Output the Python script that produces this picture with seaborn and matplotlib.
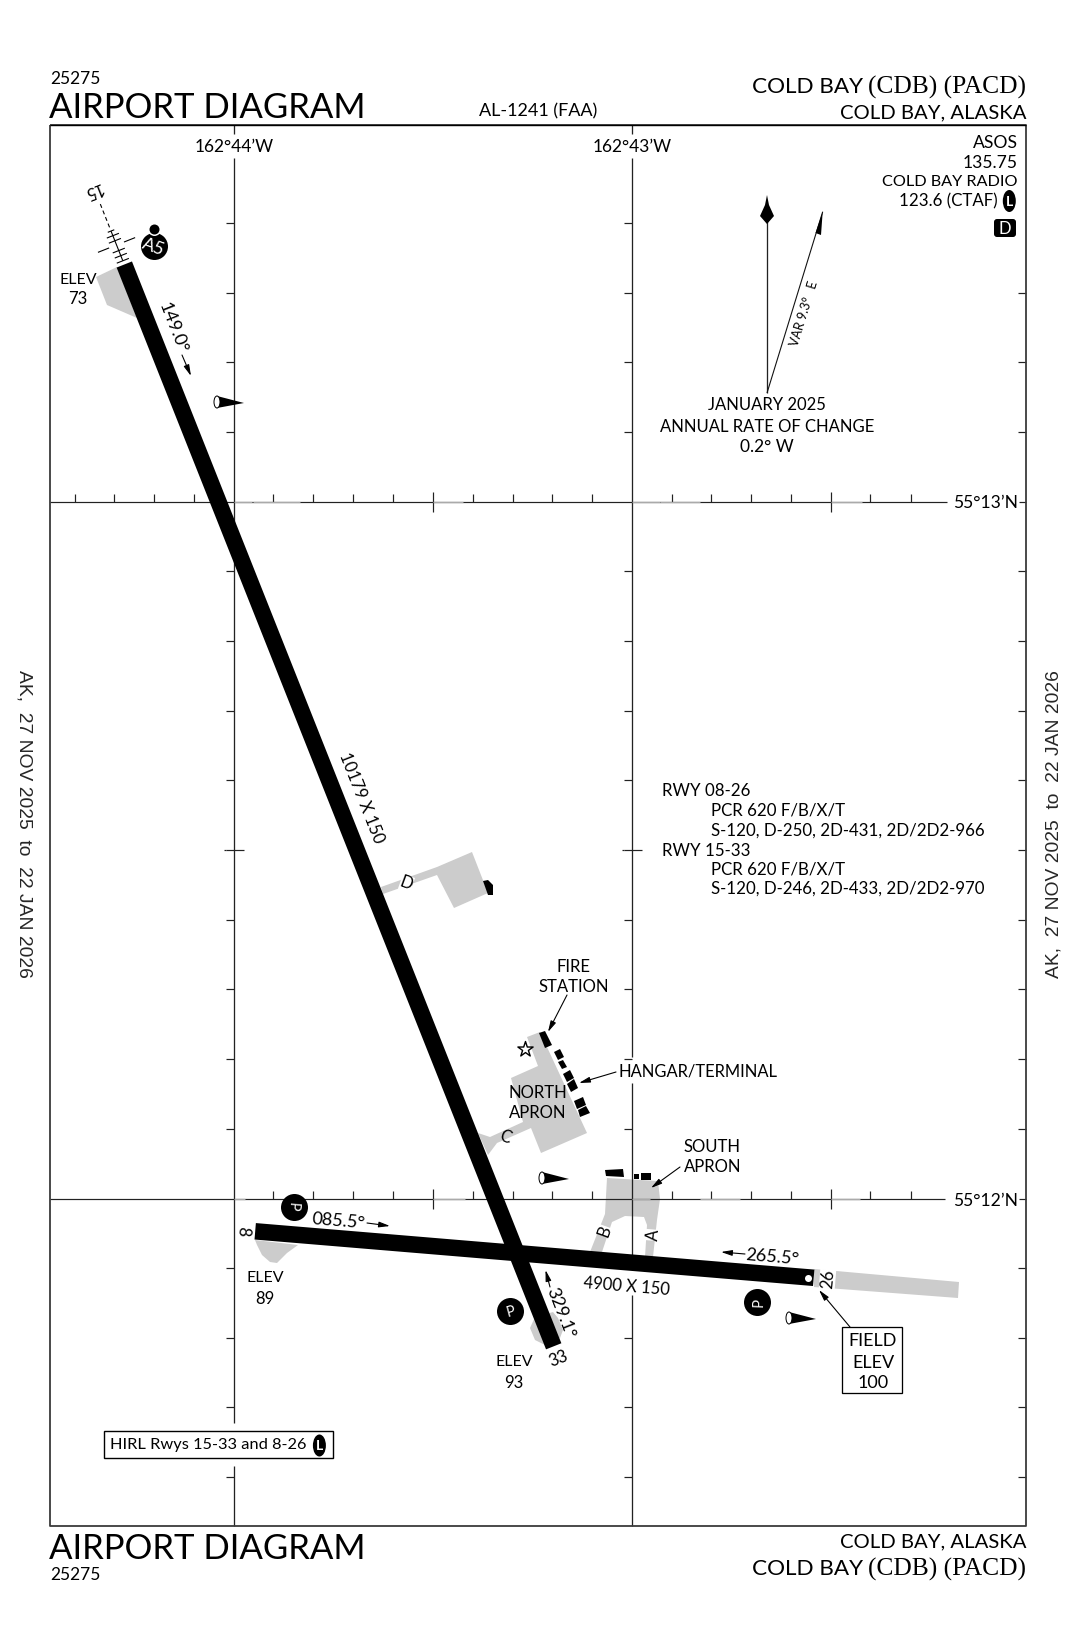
import numpy as np
import pandas as pd
import matplotlib
matplotlib.use('Agg')
import matplotlib.pyplot as plt
from matplotlib.patches import Ellipse, FancyBboxPatch, Rectangle
import seaborn as sns

# Chart positions, all in picture pixels
FRAME_X = [50, 1026, 1026, 50, 50]
FRAME_Y = [125, 125, 1526, 1526, 125]
LON_WEST = 234
LON_EAST = 632
LAT_NORTH = 502
LAT_SOUTH = 1199

LON_TICKS_Y = [223, 293, 362, 432, 571, 641, 711, 780, 850, 920, 989, 1059, 1129, 1268, 1338, 1407, 1477]
RIGHT_TICKS_Y = [293, 362, 432, 571, 641, 711, 780, 850, 920, 989, 1059, 1129, 1268, 1338, 1407, 1477]
MAJOR_TICK_Y = 850
LAT_TICKS_X_NORTH = [75, 114, 154, 194, 273, 313, 353, 393, 473, 513, 552, 592, 672, 711, 751, 791, 870, 911]
LAT_TICKS_X_SOUTH = [273, 313, 353, 393, 473, 513, 552, 592, 672, 711, 751, 791, 870, 911]
MAJOR_TICK_X = [433, 831]

# Lighter stretches of the latitude lines (from, to)
LIGHT_NORTH = [(234, 252), (253, 300), (433, 463), (632, 660), (660, 700), (831, 862)]
LIGHT_SOUTH = [(234, 245), (433, 465), (632, 650), (700, 740), (831, 860)]

# Runways: end centres
RWY_15_33_X = [124.3, 553.7]
RWY_15_33_Y = [264.5, 1346.3]
RWY_8_26_X = [255.2, 813.7]
RWY_8_26_Y = [1231.3, 1277.8]

# Grey pavement
OVERRUN_15 = [(96, 277), (117, 267), (137, 318), (107, 305)]
OVERRUN_8 = [(255, 1240), (298, 1245), (287, 1253), (277, 1263), (270, 1262), (262, 1255), (257, 1245)]
OVERRUN_33 = [(535, 1317), (530, 1328), (535, 1340), (545, 1345), (560, 1338), (563, 1330), (558, 1318), (553, 1312)]
STOPWAY_26 = [(814, 1269), (959, 1282), (958, 1298), (814, 1287)]
APRON_D = [(381, 887), (437, 867), (472, 852), (488, 893), (454, 908), (437, 875), (383, 894)]
APRON_NORTH = [(511, 1078), (538, 1066), (527, 1037), (540, 1032), (587, 1133), (541, 1153), (531, 1128),
               (497, 1143), (488, 1155), (478, 1133), (490, 1137), (523, 1122)]
APRON_SOUTH = [(607, 1178), (658, 1181), (660, 1199), (657, 1220), (653, 1257), (645, 1257), (647, 1225), (644, 1217),
               (625, 1216), (612, 1222), (602, 1252), (590, 1252), (605, 1214)]

# Buildings
BUILDINGS = [
    [(483, 881), (488, 880), (493, 885), (493, 895), (488, 895)],
    [(539, 1033), (545, 1031), (552, 1045), (545, 1048)],
    [(554, 1052), (560, 1049), (564, 1057), (558, 1060)],
    [(558, 1062), (563, 1060), (567, 1067), (562, 1069)],
    [(563, 1074), (570, 1070), (574, 1078), (567, 1082)],
    [(567, 1084), (574, 1079), (578, 1088), (571, 1092)],
    [(574, 1101), (583, 1097), (586, 1105), (577, 1109)],
    [(578, 1110), (586, 1106), (590, 1113), (580, 1117)],
    [(605, 1170), (623, 1169), (624, 1177), (606, 1176)],
    [(634, 1174), (639, 1174), (639, 1179), (634, 1179)],
    [(641, 1173), (651, 1173), (651, 1180), (641, 1180)],
]

# Round symbols: x, y, diameter
PARKING_X = [294, 510, 757]
PARKING_Y = [1207, 1311, 1302]
PARKING_ROT = [-95, 15, 88]
WINDCONE_X = [217, 542, 789]
WINDCONE_Y = [402, 1178, 1318]
ALS_DIST = [4, 9.5, 15, 25.5, 31]

# Arrows: from x, from y, to x, to y
ARROWS = [
    (182, 355, 191, 376), (367, 1223, 390, 1226), (745, 1254, 721, 1252), (550, 1287, 545.5, 1270),
    (567, 995, 548, 1032), (616, 1072, 579, 1083), (680, 1167, 651, 1188), (850, 1327, 819, 1290),
]

# Text: x, y, string, size, rotation
LABELS = [
    (234, 145, "162°44’W", 12.5, 0), (632, 145, "162°43’W", 12.5, 0),
    (767, 404, "JANUARY 2025", 12, 0), (767, 425, "ANNUAL RATE OF CHANGE", 12, 0), (767, 446, "0.2° W", 12.5, 0),
    (78, 278, "ELEV", 11.5, 0), (78, 298, "73", 12, 0),
    (265, 1277, "ELEV", 11.5, 0), (265, 1297, "89", 12, 0),
    (514, 1361, "ELEV", 11.5, 0), (514, 1381, "93", 12, 0),
    (93, 192, "15", 12, 201.6), (558, 1357, "33", 12, 21.6), (244, 1231, "8", 12, -94.7),
    (174, 327, "149.0°", 13, -68.4), (363, 797, "10179 X 150", 12, -68.4),
    (339, 1220, "085.5°", 13, -4.7), (772, 1256, "265.5°", 13, -4.7),
    (562, 1312, "329.1°", 13, -68.4), (627, 1285, "4900 X 150", 12, -4.7),
    (803, 313, "VAR 9.3°   E", 9, 72.9),
    (573.5, 965, "FIRE", 12, 0), (573.5, 985, "STATION", 12, 0),
    (537.5, 1092, "NORTH", 12, 0), (537.5, 1112, "APRON", 12, 0),
    (712.5, 1145, "SOUTH", 12, 0), (712.5, 1166, "APRON", 12, 0),
    (873, 1340, "FIELD", 13, 0), (873, 1361, "ELEV", 13, 0), (873, 1382, "100", 13, 0),
]
TAXI_LABELS = [
    (407, 882, "D", -20), (603, 1231, "B", 70), (652, 1235, "A", 85), (826, 1279, "26", 85.3),
]
COMM_LABELS = [(1018, 142, "ASOS", 12.6), (1018, 161, "135.75", 12.6), (1018, 181, "COLD BAY RADIO", 11.7),
               (998, 200, "123.6 (CTAF)", 12.2)]
PCR_LABELS = [
    (662, 790, "RWY 08-26"), (711, 809, "PCR 620 F/B/X/T"), (711, 829, "S-120, D-250, 2D-431, 2D/2D2-966"),
    (662, 850, "RWY 15-33"), (711, 868, "PCR 620 F/B/X/T"), (711, 887, "S-120, D-246, 2D-433, 2D/2D2-970"),
]
VALID_TEXT = "AK,  27 NOV 2025  to  22 JAN 2026"

sns.set_style('white')
FONT = ['Lato', 'DejaVu Sans']
plt.rcParams['font.family'] = FONT

fig = plt.figure(figsize=(10.76, 16.5), dpi=100)
ax = fig.add_axes([0, 0, 1, 1])


def px(width):
    # picture pixels to points
    return width * 72 / 100


def line(xs, ys, width=1.0, color='#333333', **kw):
    sns.lineplot(x=xs, y=ys, ax=ax, estimator=None, sort=False, errorbar=None, color=color,
                 linewidth=px(width), solid_capstyle='butt', legend=False, **kw)


def segments(rows, width=1.0, color='#222222', zorder=3):
    # one lineplot call for a batch of straight pieces
    df = pd.DataFrame([(i, x, y) for i, r in enumerate(rows) for x, y in ((r[0], r[1]), (r[2], r[3]))],
                      columns=['seg', 'x', 'y'])
    sns.lineplot(data=df, x='x', y='y', units='seg', ax=ax, estimator=None, sort=False, errorbar=None,
                 color=color, linewidth=px(width), solid_capstyle='butt', legend=False, zorder=zorder)


def fill(points, color='#cccccc', zorder=1):
    xs, ys = zip(*points)
    ax.fill(xs, ys, color=color, lw=0, zorder=zorder)


def text(x, y, s, size=12.5, rot=0, ha='center', **kw):
    kw.setdefault('zorder', 6)
    ax.text(x, y, s, fontsize=size, rotation=rot, ha=ha, va='center_baseline', rotation_mode='anchor',
            color=kw.pop('color', 'black'), **kw)


def dots(xs, ys, dia, color='black', zorder=5, **kw):
    sns.scatterplot(x=xs, y=ys, ax=ax, s=px(dia) ** 2, color=color, linewidth=kw.pop('linewidth', 0),
                    zorder=zorder, legend=False, **kw)


# Pavement under the runways
for poly in [OVERRUN_15, OVERRUN_8, OVERRUN_33, STOPWAY_26, APRON_D, APRON_NORTH, APRON_SOUTH]:
    fill(poly)

# Graticule
segments([(LON_WEST, 125, LON_WEST, 134), (LON_WEST, 158, LON_WEST, 1423), (LON_WEST, 1466, LON_WEST, 1526),
          (LON_EAST, 125, LON_EAST, 134), (LON_EAST, 158, LON_EAST, 1057), (LON_EAST, 1083, LON_EAST, 1270),
          (LON_EAST, 1295, LON_EAST, 1526)], 1.3, zorder=2)
segments([(50, LAT_NORTH, 947, LAT_NORTH), (1019, LAT_NORTH, 1026, LAT_NORTH),
          (50, LAT_SOUTH, 945, LAT_SOUTH), (1019, LAT_SOUTH, 1026, LAT_SOUTH)], 1.2, zorder=2)
segments([(a, LAT_NORTH, b, LAT_NORTH) for a, b in LIGHT_NORTH] +
         [(a, LAT_SOUTH, b, LAT_SOUTH) for a, b in LIGHT_SOUTH], 1.3, color='#aaaaaa', zorder=2.1)

ticks = []
for y in LON_TICKS_Y:
    ticks += [(LON_WEST - 8, y, LON_WEST, y), (LON_EAST - 8, y, LON_EAST, y)]
for y in RIGHT_TICKS_Y:
    ticks.append((1018, y, 1026, y))
ticks += [(LON_WEST, MAJOR_TICK_Y, LON_WEST + 10, MAJOR_TICK_Y), (LON_EAST, MAJOR_TICK_Y, LON_EAST + 10, MAJOR_TICK_Y),
          (LON_WEST - 10, MAJOR_TICK_Y, LON_WEST - 8, MAJOR_TICK_Y), (LON_EAST - 10, MAJOR_TICK_Y, LON_EAST - 8, MAJOR_TICK_Y)]
for x in LAT_TICKS_X_NORTH:
    ticks.append((x, LAT_NORTH - 8, x, LAT_NORTH))
for x in LAT_TICKS_X_SOUTH:
    ticks.append((x, LAT_SOUTH - 8, x, LAT_SOUTH))
for x in MAJOR_TICK_X:
    ticks += [(x, LAT_NORTH - 10, x, LAT_NORTH + 10), (x, LAT_SOUTH - 10, x, LAT_SOUTH + 10)]
segments(ticks, 1.2, zorder=2)

# Frame
line(FRAME_X, FRAME_Y, 1.8, '#3a3a3a', zorder=3)
segments([(50, 125, 1026, 125)], 1.4, color='black', zorder=3.1)

# Runways
line(RWY_15_33_X, RWY_15_33_Y, 16.5, 'black', zorder=4)
line(RWY_8_26_X, RWY_8_26_Y, 16.5, 'black', zorder=4)
dots([808.3], [1277.7], 7, color='white', zorder=5)

# Approach lights off the end of runway 15
ux = RWY_15_33_X[0] - RWY_15_33_X[1]
uy = RWY_15_33_Y[0] - RWY_15_33_Y[1]
length = np.hypot(ux, uy)
ux, uy = ux / length, uy / length
ex, ey = RWY_15_33_X[0], RWY_15_33_Y[0]
bars = []
for d in ALS_DIST:
    bars.append((ex + d * ux - 6.5 * uy, ey + d * uy + 6.5 * ux, ex + d * ux + 6.5 * uy, ey + d * uy - 6.5 * ux))
d = 36
bars.append((ex + d * ux - 3.5 * uy, ey + d * uy + 3.5 * ux, ex + d * ux + 3.5 * uy, ey + d * uy - 3.5 * ux))
d = 21
for a, b in ((8, 20), (-20, -8)):
    bars.append((ex + d * ux + a * uy, ey + d * uy - a * ux, ex + d * ux + b * uy, ey + d * uy - b * ux))
bars.append((ex + 4 * ux, ey + 4 * uy, ex + 36 * ux, ey + 36 * uy))
for d in (40, 47, 54, 61):
    bars.append((ex + d * ux, ey + d * uy, ex + (d + 4) * ux, ey + (d + 4) * uy))
segments(bars, 1.1, color='black', zorder=4)

# Buildings
for poly in BUILDINGS:
    fill(poly, 'black', zorder=4)
dots([525], [1049], 16, color='white', marker='*', edgecolor='black', linewidth=1.0, zorder=5)

# Parking, airport beacon and obstruction style symbols
dots(PARKING_X, PARKING_Y, 27)
for x, y, r in zip(PARKING_X, PARKING_Y, PARKING_ROT):
    text(x, y, "P", 10.5, r, color='white')
dots([154], [245.5], 27)
dots([154], [229], 13, color='white', zorder=5.1)
dots([154], [229], 10, zorder=5.2)
text(154, 246, "A5", 13, -20, color='white')

# Wind cones
for x, y in zip(WINDCONE_X, WINDCONE_Y):
    fill([(x, y - 6), (x + 27, y + 1), (x, y + 6)], 'black', zorder=4)
    ax.add_patch(Ellipse((x, y), 6, 12, fc='white', ec='black', lw=px(1), zorder=4.5))

# North arrow and variation
line([767, 767], [393, 220], 1.3, '#222222')
line([767, 822.7], [393, 211.7], 1.1, '#111111')
fill([(767, 195), (769, 205), (774, 216), (767, 224), (760, 216), (765, 205)], 'black', zorder=4)
fill([(822.7, 211.7), (821, 235), (815.5, 233)], 'black', zorder=4)

for x0, y0, x1, y1 in ARROWS:
    ax.annotate('', xy=(x1, y1), xytext=(x0, y0), zorder=5,
                arrowprops=dict(arrowstyle='-|>,head_length=0.55,head_width=0.14', mutation_scale=12, lw=px(1.1),
                                color='black', shrinkA=0, shrinkB=0))

# Boxes
ax.add_patch(Rectangle((842.3, 1327.3), 60, 65.4, fc='white', ec='black', lw=px(1.3), zorder=5))
ax.add_patch(Rectangle((103.5, 1430.7), 229.5, 27.3, fc='white', ec='black', lw=px(1.4), zorder=5))
for x, y in ((1009.3, 201), (319.4, 1445.5)):
    ax.add_patch(Ellipse((x, y), 13, 22, fc='black', lw=0, zorder=6))
    text(x, y, "L", 10, 0, color='white', zorder=7, fontweight='bold')
ax.add_patch(FancyBboxPatch((997, 222), 16, 12, boxstyle='round,pad=3,rounding_size=3', fc='black', lw=0, zorder=5))
text(1005, 228, "D", 12, 0, color='white')
text(110, 1444, "HIRL Rwys 15-33 and 8-26", 11.8, 0, ha='left')

# All the labels
for x, y, s, size, rot in LABELS:
    text(x, y, s, size, rot, bbox=dict(fc='white', ec='none', pad=0.5) if s.startswith('162') else None)
for x, y, s, rot in TAXI_LABELS:
    text(x, y, s, 12, rot, bbox=dict(fc='white', ec='none', pad=0))
text(506, 1136, "C", 12, -20)
for x, y, s, size in COMM_LABELS:
    text(x, y, s, size, ha='right')
for x, y, s in PCR_LABELS:
    text(x, y, s, 12.2, ha='left')
text(619, 1070, "HANGAR/TERMINAL", 11.9, ha='left')
text(1018, 502, "55°13’N", 12.6, ha='right')
text(1018, 1199, "55°12’N", 12.6, ha='right')

# Header and footer
text(50, 78, "25275", 12.5, ha='left')
text(49, 105, "AIRPORT DIAGRAM", 25, ha='left')
text(538, 110, "AL-1241 (FAA)", 13)
text(863, 85, "COLD BAY", 16.2, ha='right')
text(1026, 85, "(CDB) (PACD)", 18.3, ha='right', family=['Liberation Serif', 'DejaVu Serif'])
text(1026, 111, "COLD BAY, ALASKA", 14.6, ha='right')

text(49, 1546, "AIRPORT DIAGRAM", 25, ha='left')
text(50, 1573, "25275", 12.5, ha='left')
text(1026, 1540, "COLD BAY, ALASKA", 14.6, ha='right')
text(863, 1567, "COLD BAY", 16.2, ha='right')
text(1026, 1567, "(CDB) (PACD)", 18.3, ha='right', family=['Liberation Serif', 'DejaVu Serif'])

# Validity dates up the margins
ax.text(24, 824, VALID_TEXT, fontsize=13.9, rotation=-90, ha='center', va='center', family='Liberation Sans')
ax.text(1054, 824, VALID_TEXT, fontsize=13.9, rotation=90, ha='center', va='center', family='Liberation Sans')

ax.set_xlim(0, 1076)
ax.set_ylim(1650, 0)
ax.set_axis_off()
fig.savefig('out.png', dpi=100, facecolor='white')
